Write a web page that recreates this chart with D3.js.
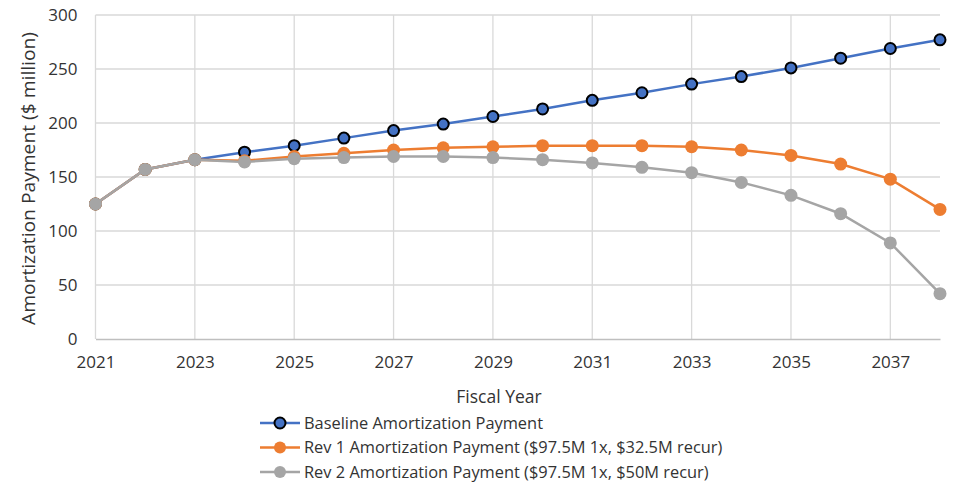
<!DOCTYPE html>
<html>
<head>
<meta charset="utf-8">
<script src="https://cdn.jsdelivr.net/npm/d3@7"></script>
<style>
  body { margin: 0; background: #fff; }
  text { font-family: "Open Sans", "Liberation Sans", sans-serif; fill: #333; }
</style>
</head>
<body>
<script>
let width = 956;
let height = 487;

// data
let years = [2021, 2022, 2023, 2024, 2025, 2026, 2027, 2028, 2029, 2030, 2031, 2032, 2033, 2034, 2035, 2036, 2037, 2038];
let baseline = [125, 157, 166, 173, 179, 186, 193, 199, 206, 213, 221, 228, 236, 243, 251, 260, 269, 277];
let rev1 = [125, 157, 166, 165, 169, 172, 175, 177, 178, 179, 179, 179, 178, 175, 170, 162, 148, 120];
let rev2 = [125, 157, 166, 164, 167, 168, 169, 169, 168, 166, 163, 159, 154, 145, 133, 116, 89, 42];
let xTicks = [2021, 2023, 2025, 2027, 2029, 2031, 2033, 2035, 2037];
let yTicks = [0, 50, 100, 150, 200, 250, 300];

let seriesNames = [
  "Baseline Amortization Payment",
  "Rev 1 Amortization Payment ($97.5M 1x, $32.5M recur)",
  "Rev 2 Amortization Payment ($97.5M 1x, $50M recur)"
];
let seriesColors = ["#4472C4", "#ED7D31", "#A5A5A5"];
let seriesStroke = ["#000", null, null];

let series = [baseline, rev1, rev2].map((vals, i) => ({
  name: seriesNames[i],
  color: seriesColors[i],
  stroke: seriesStroke[i],
  values: vals.map((v, j) => ({year: years[j], value: v}))
}));

let svg = d3.select("body")
  .append("svg")
  .attr("width", width)
  .attr("height", height);

let x = d3.scaleLinear().domain([2021, 2038]).range([95.5, 940]);
let y = d3.scaleLinear().domain([0, 300]).range([339, 15]);

// gridlines
svg.append("g")
  .selectAll("line")
  .data(yTicks.filter(d => d > 0))
  .enter()
  .append("line")
  .attr("x1", x(2021)).attr("x2", x(2038))
  .attr("y1", d => y(d)).attr("y2", d => y(d))
  .attr("stroke", "#d9d9d9").attr("stroke-width", 1.3);

svg.append("g")
  .selectAll("line")
  .data(xTicks)
  .enter()
  .append("line")
  .attr("x1", d => x(d)).attr("x2", d => x(d))
  .attr("y1", y(300)).attr("y2", y(0))
  .attr("stroke", "#d9d9d9").attr("stroke-width", 1.3);

// axes
let xAxis = svg.append("g")
  .attr("transform", "translate(0," + y(0) + ")")
  .call(d3.axisBottom(x).tickValues(xTicks).tickFormat(d3.format("d")).tickSize(0).tickPadding(17));
xAxis.select(".domain").attr("stroke", "#bfbfbf").attr("stroke-width", 1.5);
xAxis.selectAll("text").style("font-size", "17px").attr("fill", "#333");

let yAxis = svg.append("g")
  .attr("transform", "translate(" + x(2021) + ",0)")
  .call(d3.axisLeft(y).tickValues(yTicks).tickSize(0).tickPadding(18));
yAxis.select(".domain").remove();
yAxis.selectAll("text").style("font-size", "17px").attr("fill", "#333");

// axis titles
svg.append("text")
  .attr("x", 499).attr("y", 403)
  .attr("text-anchor", "middle")
  .style("font-size", "17.5px")
  .text("Fiscal Year");

svg.append("text")
  .attr("transform", "translate(35,178.5) rotate(-90)")
  .attr("text-anchor", "middle")
  .attr("textLength", 293)
  .attr("lengthAdjust", "spacingAndGlyphs")
  .style("font-size", "18px")
  .text("Amortization Payment ($ million)");

// lines and markers
let line = d3.line().x(d => x(d.year)).y(d => y(d.value));

let g = svg.append("g")
  .selectAll("g")
  .data(series)
  .enter()
  .append("g");

g.append("path")
  .attr("d", d => line(d.values))
  .attr("fill", "none")
  .attr("stroke", d => d.color)
  .attr("stroke-width", 2.5);

g.selectAll("circle")
  .data(d => d.values.map(v => Object.assign({color: d.color, stroke: d.stroke}, v)))
  .enter()
  .append("circle")
  .attr("cx", d => x(d.year))
  .attr("cy", d => y(d.value))
  .attr("r", d => d.stroke ? 5.5 : 6.5)
  .attr("fill", d => d.color)
  .attr("stroke", d => d.stroke || "none")
  .attr("stroke-width", 2);

// legend
let legend = svg.append("g")
  .selectAll("g")
  .data(series)
  .enter()
  .append("g")
  .attr("transform", (d, i) => "translate(260," + (423 + i * 24.5) + ")");

legend.append("line")
  .attr("x1", 0).attr("x2", 40)
  .attr("stroke", d => d.color).attr("stroke-width", 2.5);

legend.append("circle")
  .attr("cx", 20).attr("r", d => d.stroke ? 5.5 : 6)
  .attr("fill", d => d.color)
  .attr("stroke", d => d.stroke || "none")
  .attr("stroke-width", 2);

legend.append("text")
  .attr("x", 44).attr("dy", "0.35em")
  .style("font-size", "16.4px")
  .text(d => d.name);
</script>
</body>
</html>
